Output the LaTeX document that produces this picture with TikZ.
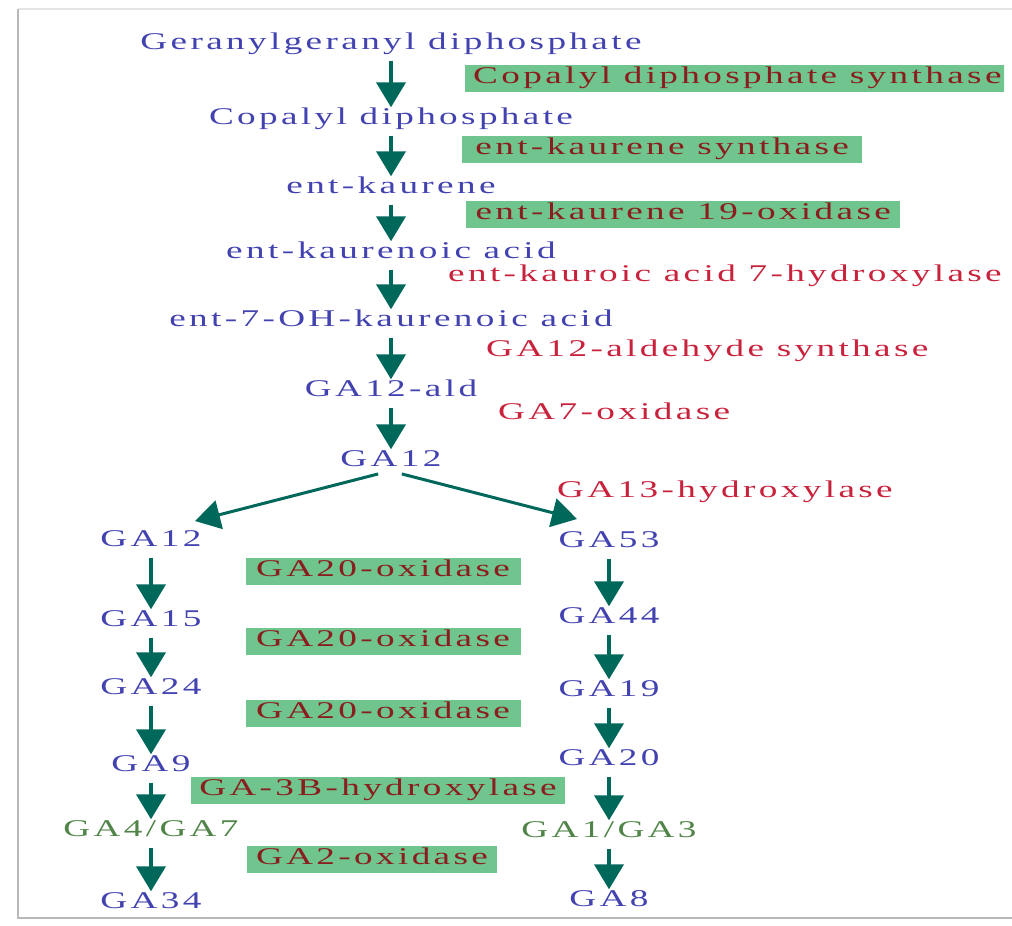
\documentclass[tikz,border=0pt]{standalone}
\usepackage{fontspec}
\setmainfont{Liberation Serif}[FakeStretch=1.55,LetterSpace=14]
\usepackage{tikz}
\usetikzlibrary{positioning,arrows.meta}
\definecolor{molblue}{RGB}{66,66,176}
\definecolor{prodgreen}{RGB}{80,132,72}
\definecolor{enzred}{RGB}{200,34,60}
\definecolor{boxtext}{RGB}{138,30,30}
\definecolor{boxgreen}{RGB}{112,196,142}
\definecolor{arrowteal}{RGB}{0,104,90}
\tikzstyle{mol} = [text=molblue, inner sep=1pt, text height=16pt, text depth=5pt, font=\fontsize{24}{26}\selectfont]
\tikzstyle{prod} = [mol, text=prodgreen]
\tikzstyle{enzyme} = [rectangle, fill=boxgreen, text=boxtext, inner xsep=8pt, inner ysep=3pt, text height=16pt, text depth=5pt, font=\fontsize{24}{26}\selectfont]
\tikzstyle{enzyme_free} = [text=enzred, inner sep=1pt, text height=16pt, text depth=5pt, font=\fontsize{24}{26}\selectfont]
\tikzstyle{conv} = [-{Triangle[width=29pt,length=25pt]}, line width=4pt, draw=arrowteal, shorten <=5pt]

\begin{document}
\begin{tikzpicture}[x=1pt,y=-1pt]
        \useasboundingbox (0,0) rectangle (1012,926);
        % Frame ------------------------------------------------------------------------------------
        \draw[gray!20, line width=2pt] (18,9) -- (1012,9);
        \draw[gray!55, line width=1.5pt] (18,9) -- (18,918) -- (1012,918);
        \begin{scope}
        \clip (0,0) rectangle (1004,926);
        % Main chain -------------------------------------------------------------------------------
        \node[mol] (ggpp) at (391,44) {Geranylgeranyl diphosphate};
        \node[mol] (cpp) at (391,119) {Copalyl diphosphate};
        \node[mol] (kaurene) at (391,188) {ent-kaurene};
        \node[mol] (kaurenoic) at (391,253) {ent-kaurenoic acid};
        \node[mol] (oh_kaurenoic) at (391,321) {ent-7-OH-kaurenoic acid};
        \node[mol] (ga12_ald) at (391,391) {GA12-ald};
        \node[mol] (ga12) at (391,461) {GA12};
        % Left branch
        \node[mol] (ga12_l) at (151,541) {GA12};
        \node[mol] (ga15) at (151,621) {GA15};
        \node[mol] (ga24) at (151,689) {GA24};
        \node[mol] (ga9) at (151,766) {GA9};
        \node[prod] (ga4_ga7) at (151,831) {GA4/GA7};
        \node[mol] (ga34) at (151,903) {GA34};
        % Right branch
        \node[mol] (ga53) at (609,542) {GA53};
        \node[mol] (ga44) at (609,618) {GA44};
        \node[mol] (ga19) at (609,691) {GA19};
        \node[mol] (ga20) at (609,760) {GA20};
        \node[prod] (ga1_ga3) at (609,832) {GA1/GA3};
        \node[mol] (ga8) at (609,901) {GA8};
        % Enzymes ----------------------------------------------------------------------------------
        \node[enzyme, anchor=west, minimum width=540pt, align=left] (cps) at (465,78) {Copalyl diphosphate synthase};
        \node[enzyme, anchor=west, minimum width=400pt] (ks) at (462,149) {ent-kaurene synthase};
        \node[enzyme, anchor=west, minimum width=434pt] (ko) at (466,214) {ent-kaurene 19-oxidase};
        \node[enzyme_free, anchor=west] (kao) at (447,276) {ent-kauroic acid 7-hydroxylase};
        \node[enzyme_free, anchor=west] (ald_synth) at (485,351) {GA12-aldehyde synthase};
        \node[enzyme_free, anchor=west] (ga7ox) at (497,414) {GA7-oxidase};
        \node[enzyme_free, anchor=west] (ga13ox) at (556,492) {GA13-hydroxylase};
        \node[enzyme, minimum width=275pt] (ga20ox_a) at (383,571) {GA20-oxidase};
        \node[enzyme, minimum width=275pt] (ga20ox_b) at (383,641) {GA20-oxidase};
        \node[enzyme, minimum width=275pt] (ga20ox_c) at (383,713) {GA20-oxidase};
        \node[enzyme, minimum width=370pt] (ga3ox) at (378,790) {GA-3B-hydroxylase};
        \node[enzyme, minimum width=250pt] (ga2ox) at (372,859) {GA2-oxidase};
        % Arrows -----------------------------------------------------------------------------------
        \coordinate (split_l) at (195,521);
        \coordinate (split_r) at (577,519);
        \draw[conv] (ggpp) -- (cpp);
        \draw[conv] (cpp) -- (kaurene);
        \draw[conv] (kaurene) -- (kaurenoic);
        \draw[conv] (kaurenoic) -- (oh_kaurenoic);
        \draw[conv] (oh_kaurenoic) -- (ga12_ald);
        \draw[conv] (ga12_ald) -- (ga12);
        \draw[conv, line width=3pt] ([xshift=-8pt]ga12.south) -- (split_l);
        \draw[conv, line width=3pt] ([xshift=6pt]ga12.south) -- (split_r);
        \draw[conv] (ga12_l) -- (ga15);
        \draw[conv] (ga15) -- (ga24);
        \draw[conv] (ga24) -- (ga9);
        \draw[conv] (ga9) -- (ga4_ga7);
        \draw[conv] (ga4_ga7) -- (ga34);
        \draw[conv] (ga53) -- (ga44);
        \draw[conv] (ga44) -- (ga19);
        \draw[conv] (ga19) -- (ga20);
        \draw[conv] (ga20) -- (ga1_ga3);
        \draw[conv] (ga1_ga3) -- (ga8);
        \end{scope}
    \end{tikzpicture}
\end{document}
